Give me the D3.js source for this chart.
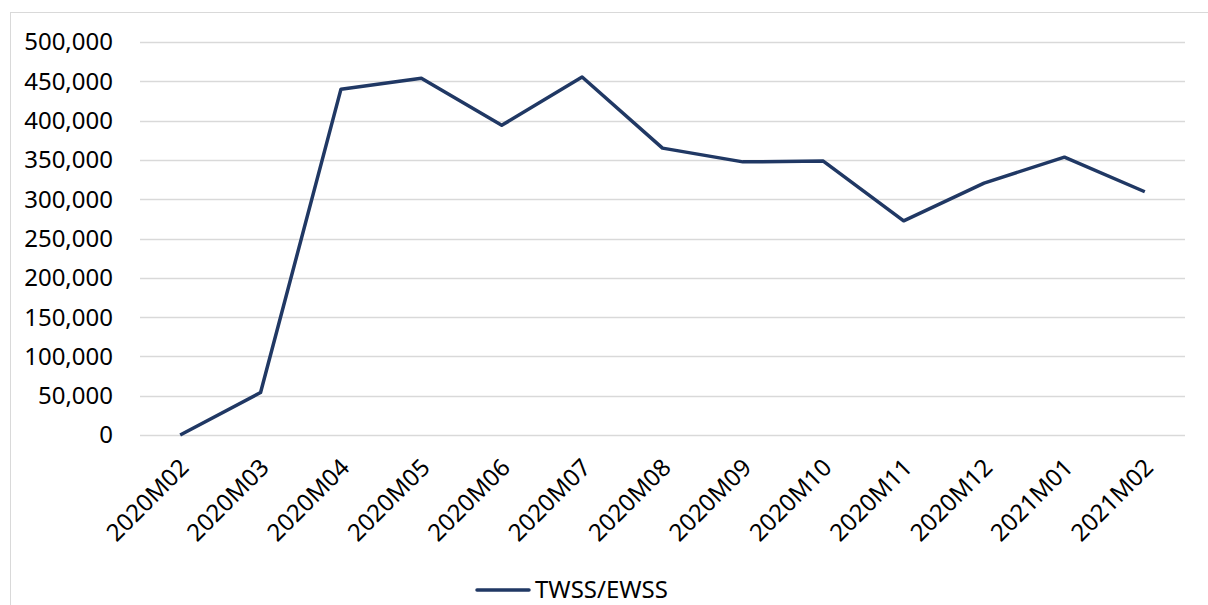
<!DOCTYPE html>
<html>
<head>
<meta charset="utf-8">
<script src="https://cdn.jsdelivr.net/npm/d3@7"></script>
<style>
  body { margin: 0; background: #fff; }
  svg { display: block; font-family: "Noto Sans", "Open Sans", sans-serif; }
</style>
</head>
<body>
<svg id="chart" width="1208" height="605"></svg>
<script>
const months = ["2020M02", "2020M03", "2020M04", "2020M05", "2020M06", "2020M07", "2020M08",
                "2020M09", "2020M10", "2020M11", "2020M12", "2021M01", "2021M02"];
const values = [0, 54000, 440000, 454000, 394000, 455500, 365000,
                347500, 348500, 272500, 320500, 353500, 309500];
const yTicks = [0, 50000, 100000, 150000, 200000, 250000, 300000, 350000, 400000, 450000, 500000];
const seriesName = "TWSS/EWSS";

const lineColor = "#203864";
const gridColor = "#d9d9d9";

const svg = d3.select("#chart");

// chart frame
svg.append("rect")
   .attr("x", 10.5).attr("y", 12.5)
   .attr("width", 1210).attr("height", 600)
   .attr("fill", "none")
   .attr("stroke", gridColor);

const x = d3.scaleBand()
            .domain(months)
            .range([140, 1185]);

const y = d3.scaleLinear()
            .domain([0, 500000])
            .range([435, 42]);

// gridlines
svg.append("g")
   .selectAll("line")
   .data(yTicks)
   .enter().append("line")
   .attr("x1", 140).attr("x2", 1185)
   .attr("y1", d => Math.round(y(d)) + 0.5)
   .attr("y2", d => Math.round(y(d)) + 0.5)
   .attr("stroke", gridColor)
   .attr("stroke-width", 1.5);

// y labels
svg.append("g")
   .selectAll("text")
   .data(yTicks)
   .enter().append("text")
   .attr("x", 113)
   .attr("y", d => y(d))
   .attr("dy", "0.35em")
   .attr("text-anchor", "end")
   .attr("font-size", 24)
   .attr("fill", "#000")
   .text(d => d3.format(",")(d));

// x labels
svg.append("g")
   .selectAll("text")
   .data(months)
   .enter().append("text")
   .attr("transform", d => "translate(" + (x(d) + x.bandwidth() / 2 + 10) + ",469) rotate(-45)")
   .attr("text-anchor", "end")
   .attr("font-size", 24)
   .attr("fill", "#000")
   .text(d => d);

// line
const line = d3.line()
               .x((d, i) => x(months[i]) + x.bandwidth() / 2)
               .y(d => y(d));

svg.append("path")
   .datum(values)
   .attr("d", line)
   .attr("fill", "none")
   .attr("stroke", lineColor)
   .attr("stroke-width", 3.5)
   .attr("stroke-linejoin", "round");

// legend
svg.append("line")
   .attr("x1", 477).attr("x2", 529)
   .attr("y1", 590).attr("y2", 590)
   .attr("stroke", lineColor)
   .attr("stroke-width", 3.5)
   .attr("stroke-linecap", "round");

svg.append("text")
   .attr("x", 535).attr("y", 590)
   .attr("dy", "0.35em")
   .attr("font-size", 24)
   .attr("fill", "#000")
   .text(seriesName);
</script>
</body>
</html>
